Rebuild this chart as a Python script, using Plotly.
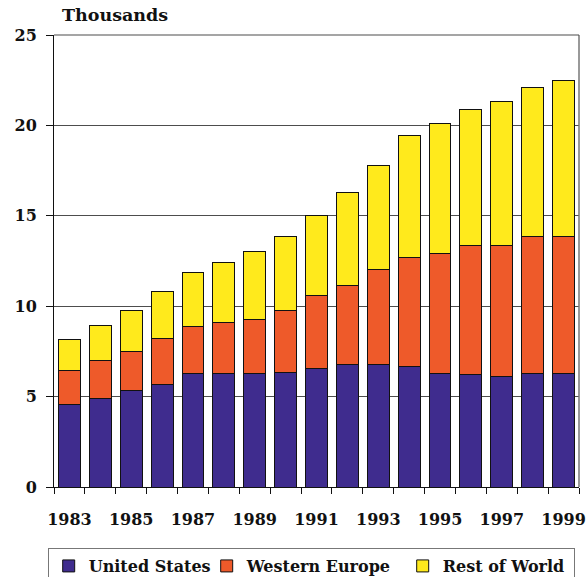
import plotly.graph_objects as go

years = [1983, 1984, 1985, 1986, 1987, 1988, 1989, 1990, 1991,
         1992, 1993, 1994, 1995, 1996, 1997, 1998, 1999]
label_years = [1983, 1985, 1987, 1989, 1991, 1993, 1995, 1997, 1999]

united_states = [4.55, 4.92, 5.32, 5.67, 6.26, 6.26, 6.26, 6.33, 6.55,
                 6.77, 6.77, 6.66, 6.30, 6.20, 6.11, 6.30, 6.30]
western_europe = [1.89, 2.10, 2.15, 2.54, 2.61, 2.86, 2.98, 3.43, 4.02,
                  4.37, 5.27, 6.03, 6.63, 7.13, 7.22, 7.53, 7.53]
rest_of_world = [1.70, 1.91, 2.29, 2.60, 3.01, 3.31, 3.76, 4.07, 4.43,
                 5.14, 5.73, 6.77, 7.20, 7.57, 7.97, 8.27, 8.67]

series = [
    ("United States", united_states, "#3f2c8e", 113),
    ("Western Europe", western_europe, "#ee5a2a", 151),
    ("Rest of World", rest_of_world, "#ffea1c", 126),
]

FONT = "DejaVu Serif"

fig = go.Figure()
for name, vals, color, lw in series:
    fig.add_trace(go.Bar(
        x=years, y=vals, name=name, width=0.71, legendwidth=lw,
        marker=dict(color=color, line=dict(color="#111111", width=1)),
    ))

fig.update_layout(
    width=587, height=577,
    barmode="stack",
    paper_bgcolor="white", plot_bgcolor="white",
    margin=dict(l=54, r=8, t=35, b=90, autoexpand=False),
    showlegend=True,
    legend=dict(
        orientation="h", traceorder="normal",
        x=-0.012, xanchor="left", y=-0.135, yanchor="top",
        bordercolor="#777777", borderwidth=1,
        font=dict(family=FONT, size=16, color="#111111", weight="bold"),
        itemwidth=30,
    ),
    xaxis=dict(
        range=[1982.5, 1999.5],
        tickmode="array", tickvals=label_years,
        ticktext=[str(y) for y in label_years],
        ticks="", showgrid=False, zeroline=False,
        showline=True, linecolor="#111111", linewidth=1,
        tickfont=dict(family=FONT, size=16, color="#111111", weight="bold"),
        ticklabelstandoff=18,
        minor=dict(ticks="outside", ticklen=6, tickcolor="#111111",
                   tickwidth=1, dtick=1, tick0=0.5, showgrid=False),
    ),
    yaxis=dict(
        range=[0, 25], dtick=5, tick0=0,
        showgrid=True, gridcolor="#4d4d4d", gridwidth=1.2,
        zeroline=False,
        showline=True, linecolor="#111111", linewidth=1,
        ticks="outside", ticklen=7, tickcolor="#111111",
        tickfont=dict(family=FONT, size=16, color="#111111", weight="bold"),
        ticklabelstandoff=6,
    ),
    shapes=[
        dict(type="line", xref="paper", yref="paper", x0=1, x1=1, y0=0, y1=1,
             line=dict(color="#777777", width=1.5)),
        dict(type="line", xref="paper", yref="paper", x0=0, x1=1, y0=1, y1=1,
             line=dict(color="#4d4d4d", width=1.2)),
    ],
    annotations=[
        dict(text="Thousands", xref="paper", yref="paper",
             x=0.011, y=1.045, xanchor="left", yanchor="middle",
             showarrow=False,
             font=dict(family=FONT, size=17.5, color="#111111", weight="bold")),
    ],
)

fig.write_html("out.html")
